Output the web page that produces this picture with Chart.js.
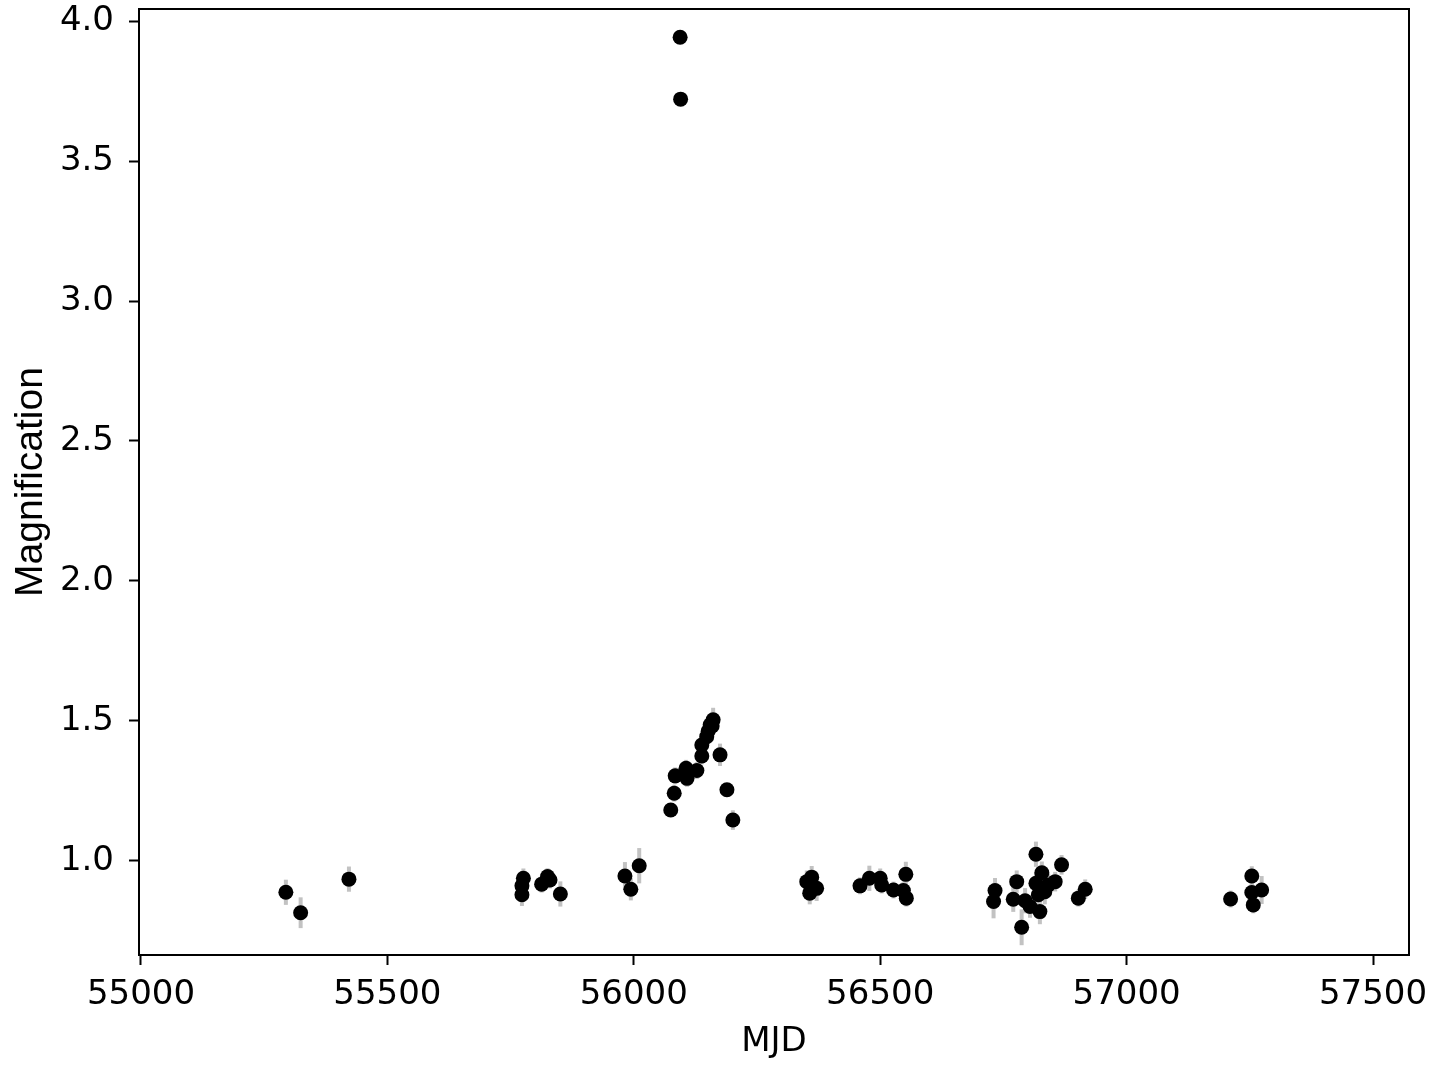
<!DOCTYPE html>
<html>
<head>
<meta charset="utf-8">
<script src="https://cdn.jsdelivr.net/npm/chart.js@4/dist/chart.umd.min.js"></script>
<style>
  html, body { margin: 0; padding: 0; background: #fff; }
  #wrap { width: 1440px; height: 1072px; }
</style>
</head>
<body>
<div id="wrap"><canvas id="lc" width="1440" height="1072"></canvas></div>
<script>
// Light curve: magnification vs MJD, with error bars

const mjd = [
    55294, 55324, 55422,
    55773, 55773, 55776, 55813, 55825, 55830, 55851,
    55982, 55994, 56011,
    56075, 56082, 56084, 56094, 56095, 56106, 56108, 56128, 56138, 56138,
    56148, 56151, 56155, 56159, 56161, 56175, 56189, 56201,
    56351, 56357, 56361, 56371,
    56459, 56478, 56500, 56503, 56527, 56547, 56552, 56553,
    56730, 56733, 56770, 56777, 56787, 56794, 56804, 56816, 56816, 56821,
    56824, 56828, 56834, 56841, 56855, 56868, 56902, 56916,
    57211, 57254, 57254, 57257, 57274
];

const magnification = [
    0.888, 0.815, 0.935,
    0.879, 0.911, 0.938, 0.917, 0.944, 0.932, 0.882,
    0.946, 0.899, 0.983,
    1.182, 1.242, 1.304, 3.942, 3.721, 1.331, 1.295, 1.323, 1.375, 1.414,
    1.444, 1.464, 1.486, 1.482, 1.504, 1.379, 1.254, 1.146,
    0.926, 0.885, 0.942, 0.902,
    0.911, 0.938, 0.938, 0.914, 0.896, 0.894, 0.952, 0.867,
    0.855, 0.894, 0.863, 0.926, 0.763, 0.858, 0.837, 1.024, 0.920, 0.879,
    0.819, 0.958, 0.890, 0.914, 0.926, 0.986, 0.867, 0.899,
    0.864, 0.946, 0.887, 0.843, 0.896
];

const magErr = [
    0.045, 0.055, 0.045,
    0.040, 0.040, 0.035, 0.030, 0.030, 0.030, 0.045,
    0.050, 0.040, 0.063,
    0.020, 0.030, 0.030, 0.010, 0.010, 0.030, 0.030, 0.030, 0.030, 0.030,
    0.030, 0.030, 0.035, 0.035, 0.043, 0.040, 0.020, 0.035,
    0.040, 0.040, 0.040, 0.045,
    0.030, 0.045, 0.035, 0.030, 0.030, 0.030, 0.045, 0.030,
    0.060, 0.045, 0.045, 0.040, 0.064, 0.045, 0.040, 0.045, 0.040, 0.050,
    0.045, 0.040, 0.045, 0.040, 0.035, 0.035, 0.030, 0.035,
    0.030, 0.035, 0.040, 0.030, 0.050
];

const xTicks = [55000, 55500, 56000, 56500, 57000, 57500];
const yTicks = [1.0, 1.5, 2.0, 2.5, 3.0, 3.5, 4.0];

const TICK_FONT = { family: "'DejaVu Sans', sans-serif", size: 34 };

// error bars drawn under the points, through the chart's own scales
const errorBars = {
    id: "errorBars",
    beforeDatasetsDraw(chart) {
        const { ctx, chartArea, scales: { x, y } } = chart;
        ctx.save();
        ctx.beginPath();
        ctx.rect(chartArea.left, chartArea.top, chartArea.width, chartArea.height);
        ctx.clip();
        ctx.strokeStyle = "#c2c2c2";
        ctx.lineWidth = 4;
        mjd.forEach((t, i) => {
            const px = x.getPixelForValue(t);
            ctx.beginPath();
            ctx.moveTo(px, y.getPixelForValue(magnification[i] - magErr[i]));
            ctx.lineTo(px, y.getPixelForValue(magnification[i] + magErr[i]));
            ctx.stroke();
        });
        ctx.restore();
    }
};

// full box around the axes (top/right spines)
const frame = {
    id: "frame",
    afterDraw(chart) {
        const { ctx, chartArea: a } = chart;
        ctx.save();
        ctx.strokeStyle = "#000";
        ctx.lineWidth = 2;
        ctx.strokeRect(a.left, a.top, a.right - a.left, a.bottom - a.top);
        ctx.restore();
    }
};

new Chart(document.getElementById("lc"), {
    type: "scatter",
    data: {
        datasets: [{
            data: mjd.map((t, i) => ({ x: t, y: magnification[i] })),
            backgroundColor: "#000",
            borderColor: "#000",
            borderWidth: 0,
            pointRadius: 7.5,
            pointHoverRadius: 7.5
        }]
    },
    options: {
        responsive: false,
        animation: false,
        devicePixelRatio: 1,
        layout: { padding: { left: 0, top: 9, right: 31, bottom: 0 } },
        plugins: { legend: { display: false }, tooltip: { enabled: false } },
        scales: {
            x: {
                type: "linear",
                min: 54996,
                max: 57573,
                afterBuildTicks: s => { s.ticks = xTicks.map(v => ({ value: v })); },
                afterFit: s => { s.height = 117; s.paddingLeft = 0; s.paddingRight = 0; },
                ticks: {
                    font: TICK_FONT, color: "#000", padding: 10, maxRotation: 0,
                    callback: v => String(v)
                },
                grid: { drawOnChartArea: false, drawTicks: true, tickLength: 10, tickColor: "#000", tickWidth: 2 },
                border: { color: "#000", width: 2 },
                title: {
                    display: true, text: "MJD", color: "#000",
                    font: { family: "'DejaVu Sans', sans-serif", size: 34 },
                    padding: { top: 0, bottom: 9 }
                }
            },
            y: {
                type: "linear",
                min: 0.664,
                max: 4.043,
                afterBuildTicks: s => { s.ticks = yTicks.map(v => ({ value: v })); },
                afterFit: s => { s.width = 139; s.paddingTop = 0; s.paddingBottom = 0; },
                ticks: {
                    font: TICK_FONT, color: "#000", padding: 15,
                    callback: v => v.toFixed(1)
                },
                grid: { drawOnChartArea: false, drawTicks: true, tickLength: 10, tickColor: "#000", tickWidth: 2 },
                border: { color: "#000", width: 2 },
                title: {
                    display: true, text: "Magnification", color: "#000",
                    font: { family: "'Liberation Sans', Arial, sans-serif", size: 39 },
                    padding: { top: 8, bottom: 0 }
                }
            }
        }
    },
    plugins: [errorBars, frame]
});
</script>
</body>
</html>
